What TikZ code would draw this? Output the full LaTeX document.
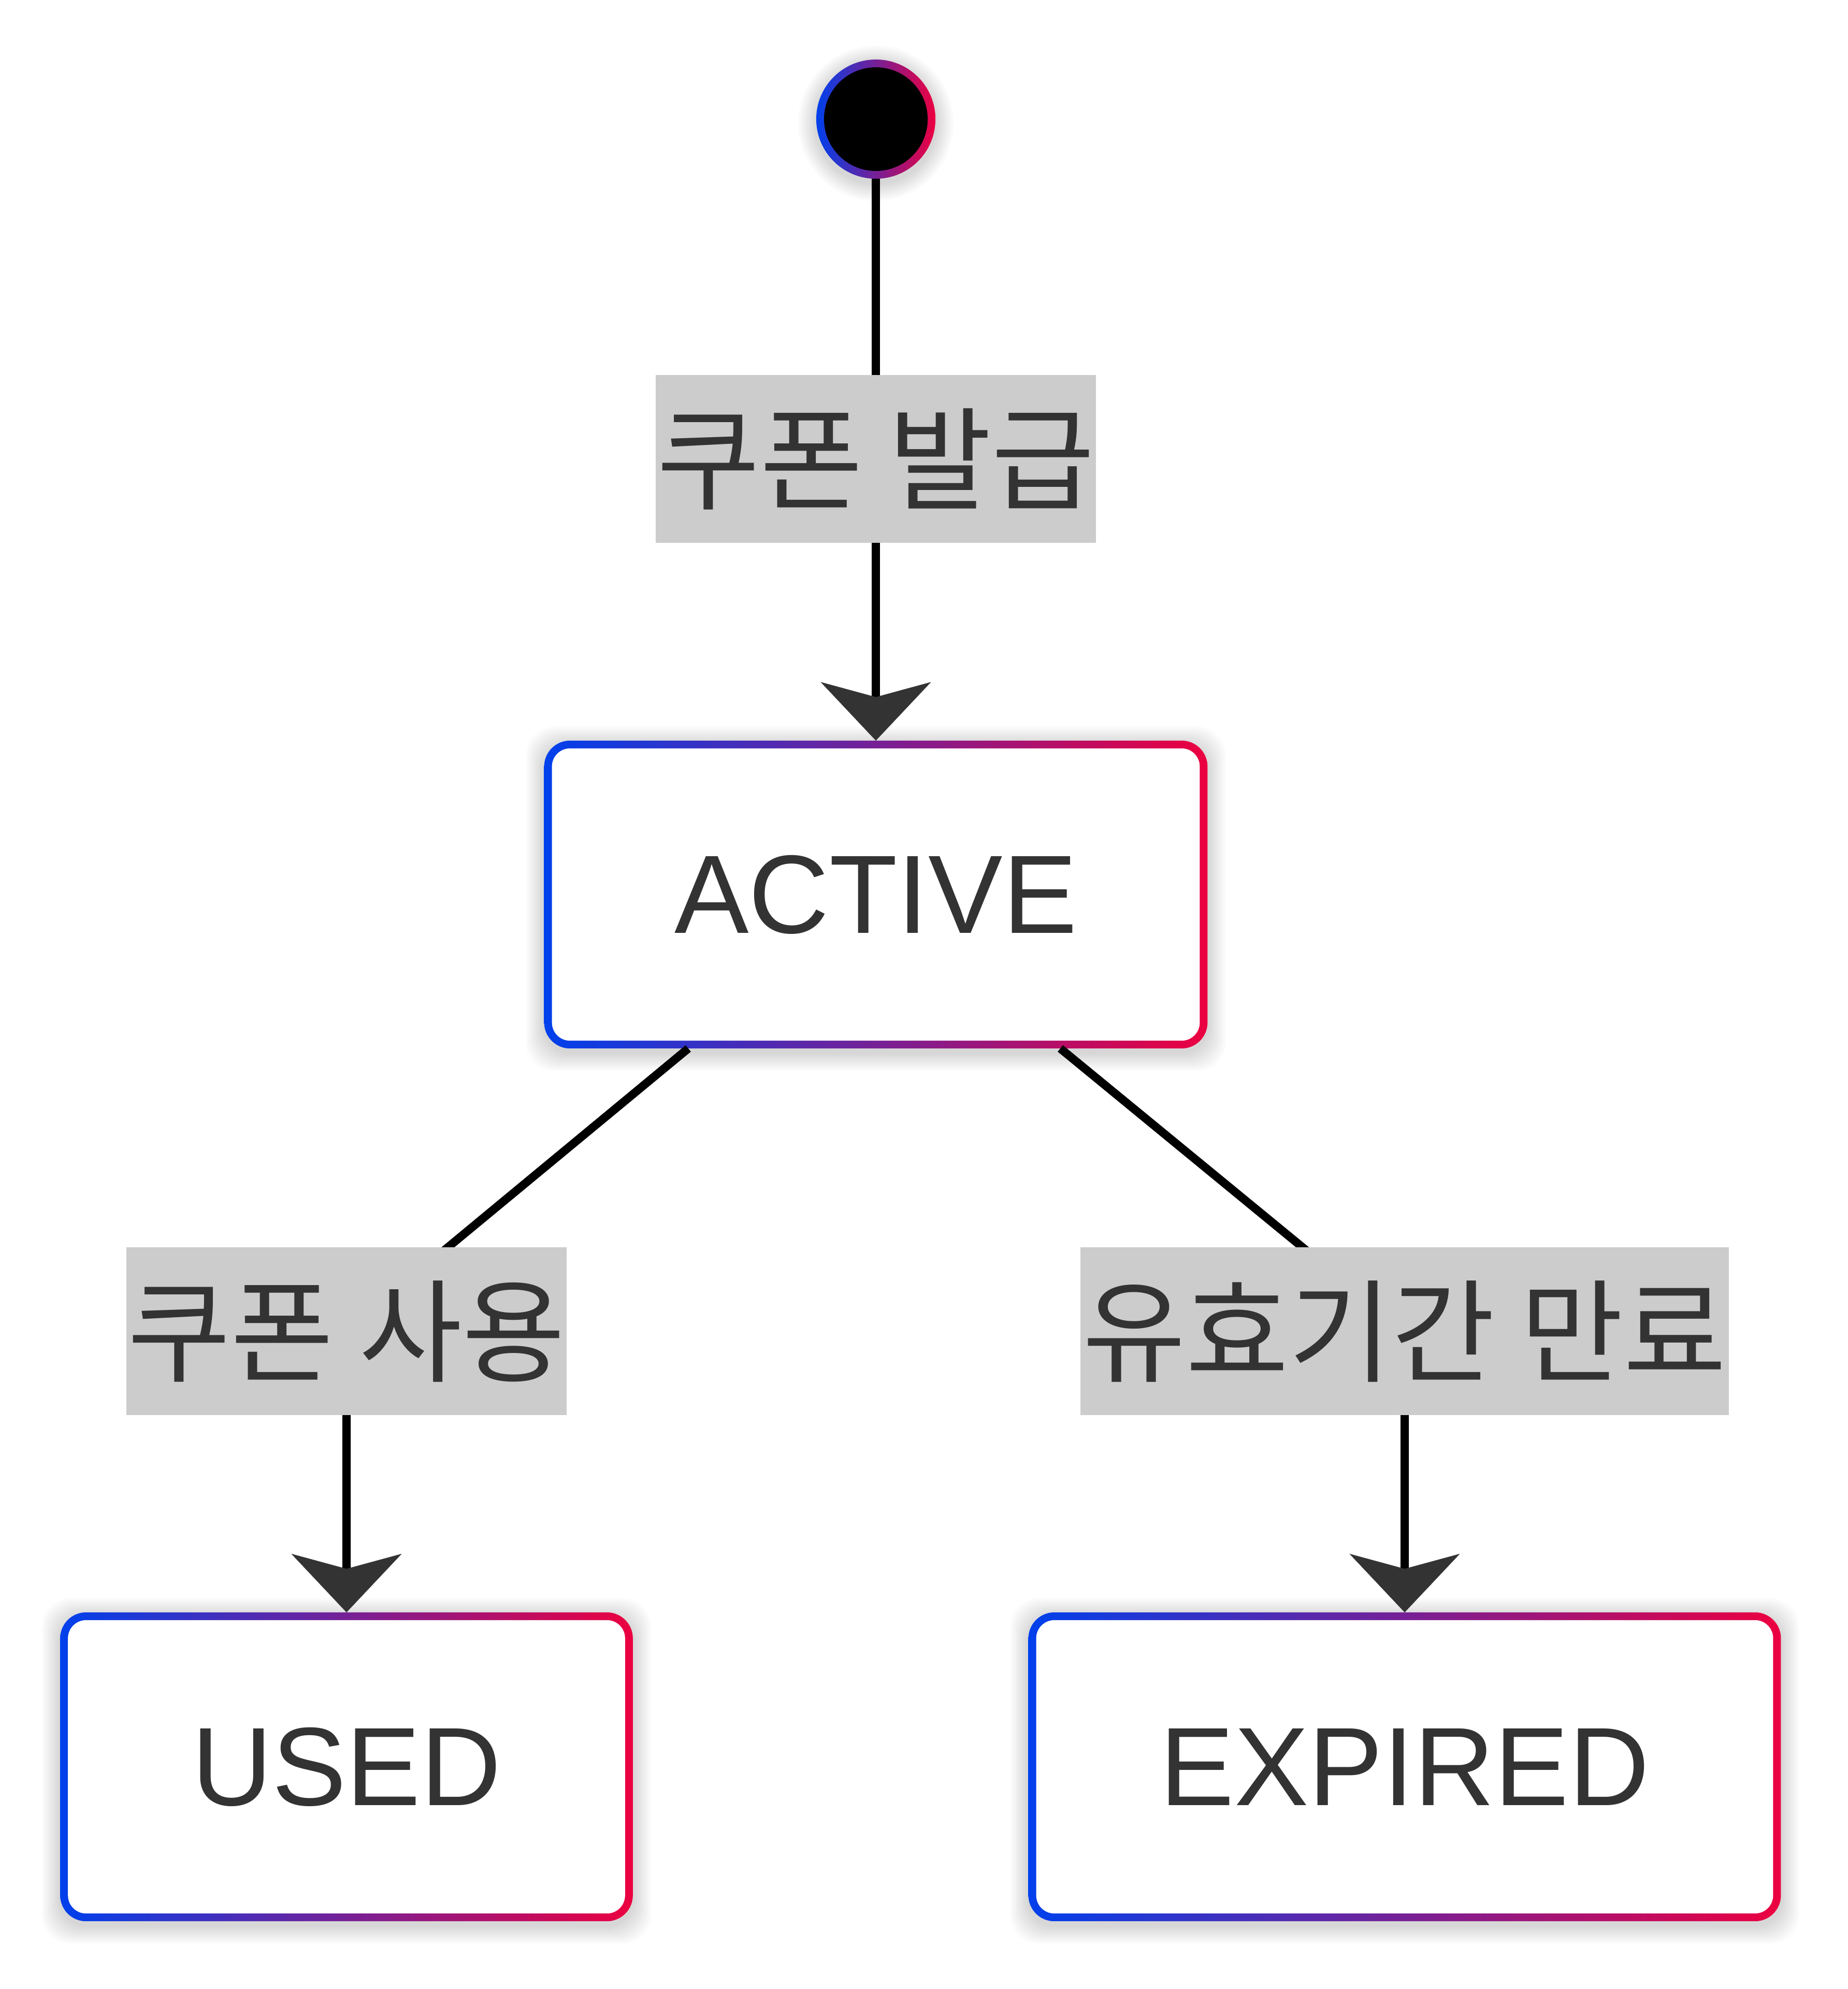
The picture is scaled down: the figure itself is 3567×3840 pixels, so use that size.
\documentclass[tikz,border=0pt]{standalone}
\usepackage{fontspec}
\setmainfont{Liberation Sans}
\newfontfamily\kr{Noto Sans CJK KR}
\usetikzlibrary{arrows.meta,calc}
\definecolor{gblue}{RGB}{0,64,236}
\definecolor{gred}{RGB}{236,0,64}
\definecolor{txt}{RGB}{51,51,51}
\definecolor{lblbg}{RGB}{204,204,204}
\tikzset{
  conn/.style={line width=0.16cm, black,
    -{Stealth[length=1.13cm, width=2.13cm, inset=0.29cm, line width=0.1pt, color=txt]}},
  lbl/.style={fill=lblbg, text=txt, font=\kr\fontsize{61.5pt}{72pt}\selectfont,
    minimum height=3.23cm, inner sep=0pt, outer sep=0pt},
  gradbox/.style={left color=gblue, right color=gred, rounded corners=0.5cm,
    inner sep=0pt, outer sep=0pt},
  innerbox/.style={fill=white, rounded corners=0.35cm, inner sep=0pt, outer sep=0pt,
    text=txt, font=\fontsize{61.2pt}{70pt}\selectfont},
  shadowlayer/.style={fill=black, opacity=0.016, inner sep=0pt, outer sep=0pt, draw=none},
}
\newcommand\softshadow[4]{% #1 center, #2 w cm, #3 h cm, #4 shape opts
  \foreach \k in {1,...,10}{
    \node[shadowlayer, #4, minimum width=#2cm+\k*0.07cm, minimum height=#3cm+\k*0.07cm]
      at ($(#1)+(0,8)$) {};
  }%
}
\begin{document}
\begin{tikzpicture}[x=0.01cm, y=-0.01cm]
\useasboundingbox (0,0) rectangle (3567,3840);
\fill[white] (0,0) rectangle (3567,3840);

% shadows
\softshadow{1691,230}{2.30}{2.30}{circle}
\softshadow{1691,1727}{12.80}{5.94}{rounded corners=0.55cm}
\softshadow{669,3411}{11.05}{5.96}{rounded corners=0.55cm}
\softshadow{2712,3411}{14.52}{5.96}{rounded corners=0.55cm}

% start state
\node[circle, left color=gblue, right color=gred, minimum size=2.30cm,
  inner sep=0pt, outer sep=0pt] (s) at (1691,230) {};
\node[circle, fill=black, minimum size=2.00cm, inner sep=0pt] (sin) at (s) {};

% states
\node[gradbox, minimum width=12.80cm, minimum height=5.94cm] (a) at (1691,1727) {};
\node[innerbox, minimum width=12.50cm, minimum height=5.64cm] (ain) at (a) {ACTIVE};

\node[gradbox, minimum width=11.05cm, minimum height=5.96cm] (u) at (669,3411) {};
\node[innerbox, minimum width=10.75cm, minimum height=5.66cm] (uin) at (u) {USED};

\node[gradbox, minimum width=14.52cm, minimum height=5.96cm] (e) at (2712,3411) {};
\node[innerbox, minimum width=14.22cm, minimum height=5.66cm] (ein) at (e) {EXPIRED};

% label anchor points
\coordinate (l1c) at (1691,886);
\coordinate (l2c) at (669,2570);
\coordinate (l3c) at (2712,2570);
\coordinate (a1) at ([xshift=-3.62cm]a.south);
\coordinate (a2) at ([xshift=3.56cm]a.south);

% connectors
\draw[conn] (s) -- (a);
\draw[conn, line join=round] (a1) -- (l2c) -- (u);
\draw[conn, line join=round] (a2) -- (l3c) -- (e);

% labels
\node[lbl, minimum width=8.50cm] (l1) at (l1c) {쿠폰 발급};
\node[lbl, minimum width=8.50cm] (l2) at (l2c) {쿠폰 사용};
\node[lbl, minimum width=12.51cm] (l3) at (l3c) {유효기간 만료};
\end{tikzpicture}
\end{document}
